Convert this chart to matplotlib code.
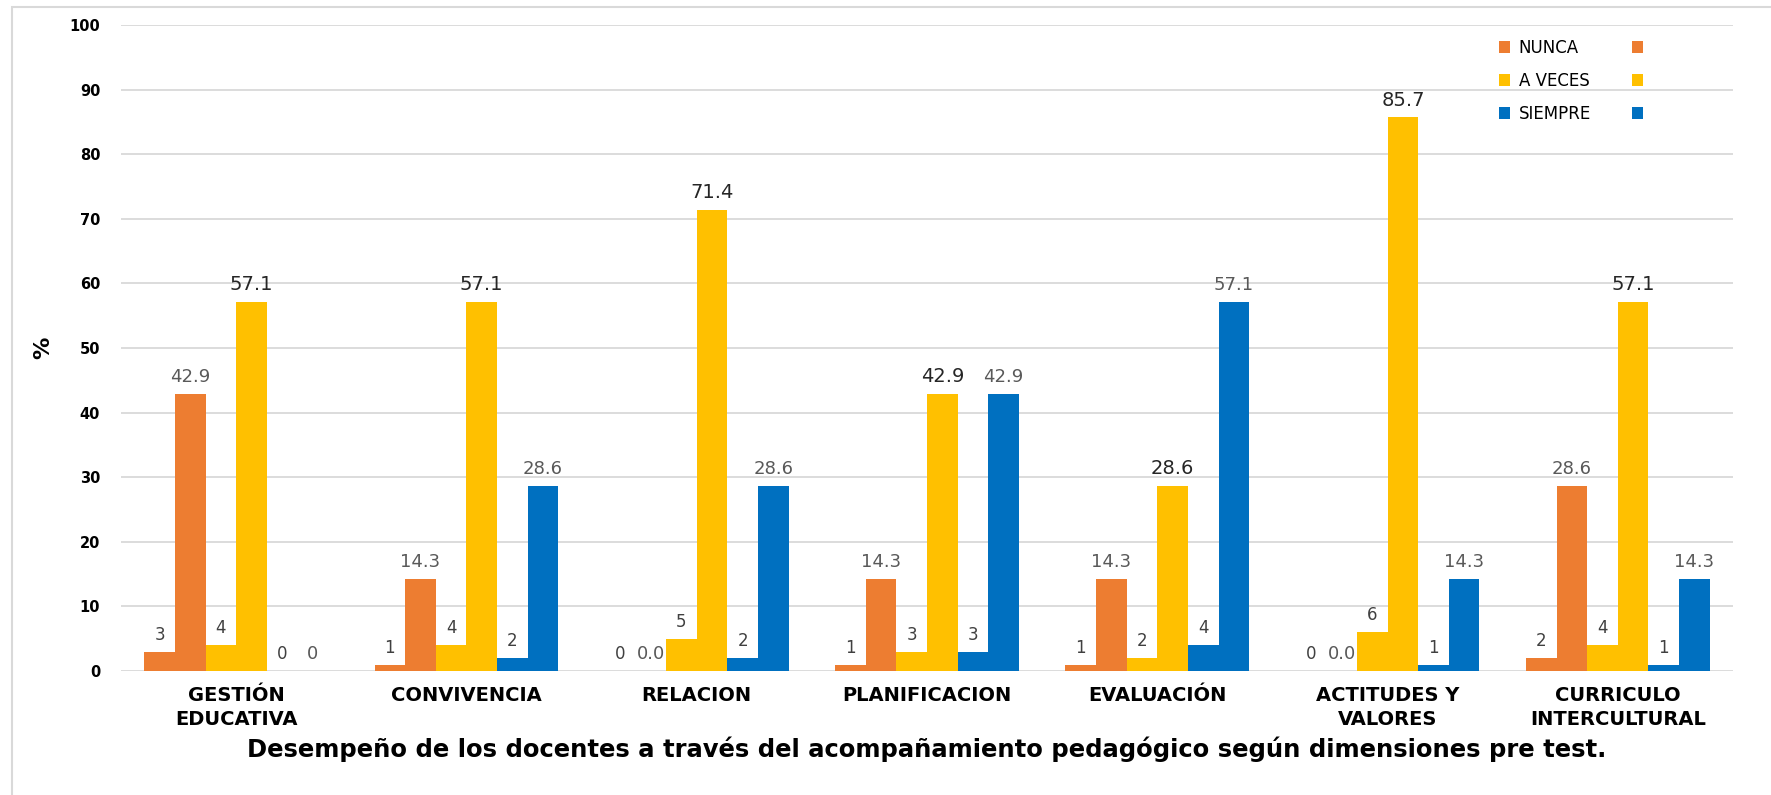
import matplotlib
matplotlib.use("Agg")
import matplotlib.pyplot as plt
import numpy as np
from matplotlib.patches import Rectangle

categories = ["GESTIÓN\nEDUCATIVA", "CONVIVENCIA", "RELACION", "PLANIFICACION",
              "EVALUACIÓN", "ACTITUDES Y\nVALORES", "CURRICULO\nINTERCULTURAL"]
nunca_n = [3, 1, 0, 1, 1, 0, 2]
nunca_pct = [42.9, 14.3, 0.0, 14.3, 14.3, 0.0, 28.6]
aveces_n = [4, 4, 5, 3, 2, 6, 4]
aveces_pct = [57.1, 57.1, 71.4, 42.9, 28.6, 85.7, 57.1]
siempre_n = [0, 2, 2, 3, 4, 1, 1]
siempre_pct = [0, 28.6, 28.6, 42.9, 57.1, 14.3, 14.3]
siempre_pct_labels = ["0", "28.6", "28.6", "42.9", "57.1", "14.3", "14.3"]
yticks = [0, 10, 20, 30, 40, 50, 60, 70, 80, 90, 100]
title = "Desempeño de los docentes a través del acompañamiento pedagógico según dimensiones pre test."

ORANGE = "#ED7D31"
YELLOW = "#FFC000"
BLUE = "#0070C0"

fig = plt.figure(figsize=(17.71, 7.95), dpi=100)
W, H = 1771, 795
ax = fig.add_axes([121 / W, 1 - 671 / H, (1733 - 121) / W, (671 - 25) / H])

# outer chart border
fig.patches.append(Rectangle((12 / W, -0.05), 1.1, 1 - 7 / H + 0.05, transform=fig.transFigure,
                             fill=False, edgecolor="#D9D9D9", linewidth=1.5, zorder=0))

x = np.arange(len(categories))
bw = 0.133
series = [
    (nunca_n, ORANGE, "NUNCA", [str(v) for v in nunca_n], "#404040", 12),
    (nunca_pct, ORANGE, "", [f"{v:.1f}" for v in nunca_pct], "#595959", 13),
    (aveces_n, YELLOW, "A VECES", [str(v) for v in aveces_n], "#404040", 12),
    (aveces_pct, YELLOW, "", [f"{v:.1f}" for v in aveces_pct], "#262626", 14),
    (siempre_n, BLUE, "SIEMPRE", [str(v) for v in siempre_n], "#404040", 12),
    (siempre_pct, BLUE, "", siempre_pct_labels, "#595959", 13),
]
handles = []
for i, (vals, col, lab, labels, lcol, lfs) in enumerate(series):
    pos = x + (i - 2.5) * bw
    b = ax.bar(pos, vals, width=bw, color=col, label=lab, zorder=3)
    handles.append(b)
    for p, v, t in zip(pos, vals, labels):
        ax.text(p, v + 1.2, t, ha="center", va="bottom", fontsize=lfs, color=lcol, zorder=4)

ax.set_ylim(0, 100)
ax.set_xlim(-0.5, len(categories) - 0.5)
ax.set_yticks(yticks)
ax.set_yticklabels([str(t) for t in yticks], fontsize=10.5, fontweight="bold", color="#000000")
ax.set_xticks(x)
ax.set_xticklabels(categories, fontsize=14, fontweight="bold", linespacing=1.3)
ax.tick_params(axis="y", length=0, pad=15)
ax.tick_params(axis="x", length=0, pad=11)
ax.grid(axis="y", color="#D9D9D9", linewidth=1.3, zorder=0)
ax.set_axisbelow(True)
for s in ax.spines.values():
    s.set_visible(False)
ax.set_ylabel("%", fontsize=16, fontweight="bold", labelpad=12)

order = [handles[0], handles[2], handles[4], handles[1], handles[3], handles[5]]
labs = ["NUNCA", "A VECES", "SIEMPRE", "", "", ""]
leg = ax.legend(order, labs, ncol=2, loc="upper left", frameon=False,
                fontsize=12, handlelength=0.7, handleheight=0.7, columnspacing=2.45,
                labelspacing=0.9, handletextpad=0.5, borderaxespad=0,
                bbox_to_anchor=(1492 / W, 1 - 32 / H), bbox_transform=fig.transFigure)

fig.text((121 + 1733) / 2 / W, 1 - 749 / H, title, ha="center", va="center",
         fontsize=17.5, fontweight="bold")

fig.savefig("out.png", dpi=100, facecolor="white")
